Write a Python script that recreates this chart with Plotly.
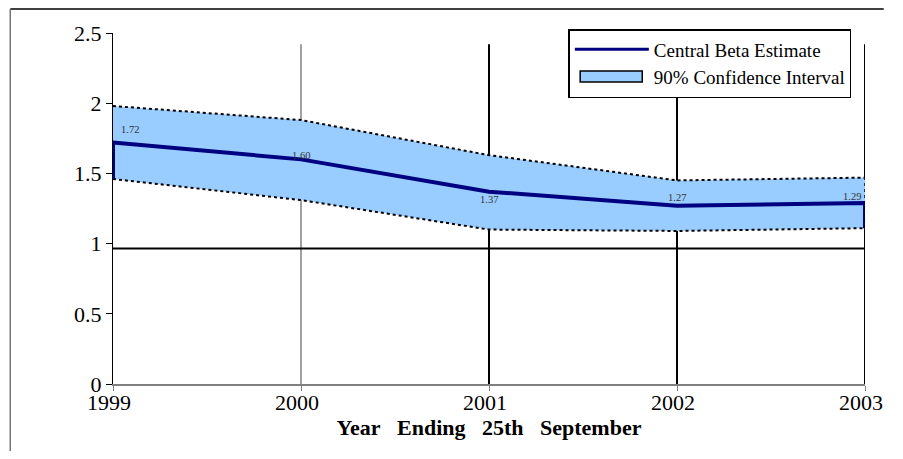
import plotly.graph_objects as go

# ---- data ----
years = [1999, 2000, 2001, 2002, 2003]
central = [1.72, 1.60, 1.37, 1.27, 1.29]
upper = [1.98, 1.88, 1.63, 1.45, 1.47]
lower = [1.46, 1.31, 1.10, 1.09, 1.11]
y_ticks = [0, 0.5, 1, 1.5, 2, 2.5]
y_tick_text = ["0", "0.5", "1", "1.5", "2", "2.5"]
reference_level = 0.965
gridline_top = 2.42

# label offsets (pixels) for the value labels
label_shifts = [(17, 13), (0, 4), (0, -8), (0, 8), (-13, 6)]

FONT = "Liberation Serif"
NAVY = "#000080"
BAND = "#99CCFF"

# page is offset 8px by the default body margin
OFF = 8
W, H = 887, 443
ML, MR, MT, MB = 105, 19, 25, 67
PW, PH = W - ML - MR, H - MT - MB


def px(x):  # page x -> paper
    return (x - OFF - ML) / PW


def py(y):  # page y -> paper
    return (H - MB - (y - OFF)) / PH


fig = go.Figure()

# confidence band fill
fig.add_trace(go.Scatter(
    x=years + years[::-1], y=upper + lower[::-1],
    fill="toself", fillcolor=BAND, mode="none",
    showlegend=False, hoverinfo="skip"))

# dotted band edges
for arr in (upper, lower):
    fig.add_trace(go.Scatter(
        x=years, y=arr, mode="lines",
        line=dict(color="black", width=2, dash="dot"),
        showlegend=False, hoverinfo="skip"))

# central estimate (with end drops to lower bound as in the original)
fig.add_trace(go.Scatter(
    x=[years[0]] + years + [years[-1]],
    y=[lower[0]] + central + [lower[-1]],
    mode="lines", line=dict(color=NAVY, width=4),
    showlegend=False, hoverinfo="skip"))

# legend entries
fig.add_trace(go.Scatter(
    x=[None], y=[None], mode="lines", line=dict(color=NAVY, width=3),
    name="Central Beta Estimate", legendrank=1))
fig.add_trace(go.Scatter(
    x=[None], y=[None], mode="lines", fill="toself",
    fillcolor="rgba(0,0,0,0)", line=dict(color="rgba(0,0,0,0)", width=0),
    name="90% Confidence Interval", legendrank=2))

shapes = []
# vertical year lines
for i, yr in enumerate(years[1:]):
    shapes.append(dict(type="line", xref="x", yref="y", x0=yr, x1=yr,
                       y0=0, y1=gridline_top,
                       line=dict(color="#808080" if i == 0 else "black",
                                 width=1.5 if i == 0 else 2), layer="below"))
# dotted closing line at last year
shapes.append(dict(type="line", xref="x", yref="y", x0=years[-1], x1=years[-1],
                   y0=0, y1=upper[-1], line=dict(color="black", width=1.5, dash="dot")))
# horizontal reference line
shapes.append(dict(type="line", xref="x", yref="y", x0=years[0], x1=years[-1],
                   y0=reference_level, y1=reference_level,
                   line=dict(color="black", width=1.8)))
# outer frame (top and left edges of the figure)
shapes.append(dict(type="line", xref="paper", yref="paper",
                   x0=px(8.75), x1=px(895), y0=py(9), y1=py(9),
                   line=dict(color="black", width=1.5)))
shapes.append(dict(type="line", xref="paper", yref="paper",
                   x0=px(8.75), x1=px(8.75), y0=py(9), y1=py(451),
                   line=dict(color="#777777", width=1.5)))
# legend background (legend itself is transparent so the symbol box shows)
shapes.append(dict(type="rect", xref="paper", yref="paper",
                   x0=px(575), x1=px(860), y0=py(97), y1=py(29),
                   fillcolor="white", line=dict(width=0)))
# legend symbol for the confidence band
shapes.append(dict(type="rect", xref="paper", yref="paper",
                   x0=px(587), x1=px(650), y0=py(82), y1=py(71),
                   fillcolor=BAND, line=dict(color="black", width=1.5)))

annotations = []
for yr, v, (dx, dy) in zip(years, central, label_shifts):
    annotations.append(dict(x=yr, y=v, xref="x", yref="y", text=f"{v:.2f}",
                            showarrow=False, xshift=dx, yshift=dy,
                            font=dict(family=FONT, size=10.5, color="#333333")))

fig.update_layout(
    width=W, height=H,
    margin=dict(l=ML, r=MR, t=MT, b=MB),
    paper_bgcolor="white", plot_bgcolor="white",
    font=dict(family=FONT, color="black"),
    shapes=shapes, annotations=annotations,
    legend=dict(x=px(575), y=py(29),
                xanchor="left", yanchor="top",
                bordercolor="black", borderwidth=1.5, bgcolor="rgba(0,0,0,0)",
                font=dict(family=FONT, size=19), itemwidth=74,
                tracegroupgap=0, traceorder="normal"),
    xaxis=dict(range=[years[0], years[-1]], tickvals=years,
               ticktext=[str(y) for y in years],
               showgrid=False, zeroline=False, showline=True,
               linecolor="#808080", linewidth=1.5,
               ticks="outside", ticklen=5, tickcolor="#808080",
               ticklabelstandoff=-7, ticklabelshift=-4,
               tickfont=dict(family=FONT, size=22),
               title=dict(text="<b>Year&nbsp;&nbsp; Ending&nbsp;&nbsp; 25th&nbsp;&nbsp; September</b>",
                          font=dict(family=FONT, size=22), standoff=0)),
    yaxis=dict(range=[0, 2.5], tickvals=y_ticks, ticktext=y_tick_text,
               showgrid=False, zeroline=False, showline=True,
               linecolor="black", linewidth=1.2,
               ticks="outside", ticklen=6, tickcolor="black",
               tickfont=dict(family=FONT, size=22)),
)

fig.write_html("out.html", config={"displayModeBar": False})
